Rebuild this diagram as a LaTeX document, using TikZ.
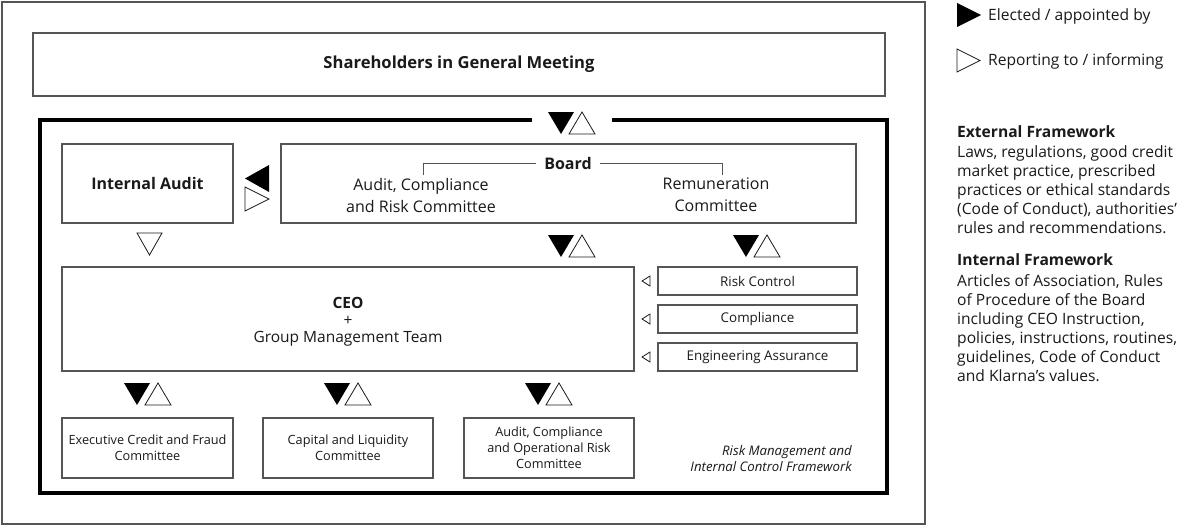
\documentclass[tikz,border=0pt]{standalone}
\usepackage{fontspec}
\setmainfont{Open Sans}
\definecolor{boxline}{HTML}{555555}
\definecolor{ink}{HTML}{1A1A1A}
\tikzset{
  box/.style={draw=boxline, line width=1.1pt, inner sep=0pt, align=center, text=ink},
  lbl/.style={inner sep=0pt, align=center, text=ink},
  frame/.style={line width=4pt, draw=black},
  wht/.style={fill=white, draw=ink, line width=0.8pt, line join=miter},
  pics/vpair/.style={code={
    \fill[black] (0,0) -- (26,0) -- (13,22) -- cycle;
    \draw[wht] (21,22) -- (47,22) -- (34,0) -- cycle;
  }}
}
\newcommand{\ttxt}{\fontsize{16.6}{22}\selectfont}
\newcommand{\btxt}{\fontsize{16}{22}\selectfont}
\newcommand{\ctxt}{\fontsize{15.5}{17}\selectfont}
\newcommand{\ktxt}{\fontsize{13.4}{16}\selectfont}
\newcommand{\stxt}{\fontsize{12.7}{16}\selectfont}
\newcommand{\itxt}{\fontsize{13.2}{16}\selectfont}
\newcommand{\rtxt}{\fontsize{15.6}{19}\selectfont}
\begin{document}
\begin{tikzpicture}[x=1pt,y=-1pt]
\useasboundingbox (0,0) rectangle (1184,527);
\fill[white] (0,0) rectangle (1184,527);
% outer frame
\draw[boxline, line width=1.1pt] (2,2) rectangle (925,524);
% shareholders
\node[box, minimum width=852pt, minimum height=63pt, font=\ttxt\bfseries] (sh) at (459,64.5) {Shareholders in General Meeting};
% thick frame
\draw[frame] (532,120) -- (40,120) -- (40,493) -- (887,493) -- (887,120) -- (612,120);
\pic at (548,112) {vpair};
% internal audit
\node[box, minimum width=171pt, minimum height=79pt, font=\btxt\bfseries] (ia) at (147.5,183.5) {Internal Audit};
% board
\node[box, minimum width=575pt, minimum height=79pt] (board) at (568.5,183.5) {};
\node[lbl, font=\btxt\bfseries, inner xsep=8pt] (bt) at (568,163) {Board};
\node[lbl, font=\btxt] (acrc) at (421,195) {Audit, Compliance\\and Risk Committee};
\node[lbl, font=\btxt] (rem) at (716,195) {Remuneration\\Committee};
\coordinate (bl) at (423,175);
\coordinate (br) at (722,175);
\draw[boxline, line width=1pt] (bl) |- (bt.west);
\draw[boxline, line width=1pt] (bt.east) -| (br);
% side triangles
\fill[black] (269,165) -- (269,192) -- (245,178.5) -- cycle;
\draw[wht] (245,187) -- (245,211) -- (269,199) -- cycle;
\draw[wht] (137,233) -- (162,233) -- (149.5,255) -- cycle;
\pic at (548,235) {vpair};
\pic at (733,235) {vpair};
% CEO
\node[box, minimum width=572pt, minimum height=104pt] (ceo) at (348,319) {};
\node[lbl, font=\ctxt] (ceot) at (348,321.5) {{\bfseries CEO}\\+\\Group Management Team};
% control functions
\node[box, minimum width=199pt, minimum height=28pt, font=\ktxt] (rc) at (757.5,281) {Risk Control};
\node[box, minimum width=199pt, minimum height=28pt, font=\ktxt] (co) at (757.5,319) {Compliance};
\node[box, minimum width=199pt, minimum height=28pt, font=\ktxt] (ea) at (757.5,357) {Engineering Assurance};
\foreach \yc in {281,319,357}{
  \draw[wht, line width=0.8pt] (650,\yc-5) -- (650,\yc+5) -- (642,\yc) -- cycle;
}
% bottom
\pic at (124,383) {vpair};
\pic at (324,383) {vpair};
\pic at (525,383) {vpair};
\node[box, minimum width=171pt, minimum height=60pt, font=\stxt] (ecf) at (147.5,448) {Executive Credit and Fraud\\Committee};
\node[box, minimum width=170pt, minimum height=60pt, font=\stxt] (clc) at (348,448) {Capital and Liquidity\\Committee};
\node[box, minimum width=170pt, minimum height=60pt, font=\stxt] (aco) at (549,448) {Audit, Compliance\\and Operational Risk\\Committee};
\node[lbl, font=\itxt\itshape, align=right, anchor=east] (rmf) at (852,458.5) {Risk Management and\\Internal Control Framework};
% legend
\fill[black] (957,3) -- (957,27) -- (981,15) -- cycle;
\draw[wht] (957,49) -- (957,72) -- (980,60.5) -- cycle;
\node[lbl, font=\rtxt, anchor=west] (l1) at (988,16.5) {Elected / appointed by};
\node[lbl, font=\rtxt, anchor=west] (l2) at (988,61.5) {Reporting to / informing};
\node[lbl, font=\rtxt, align=left, anchor=north west] (ext) at (957,125) {{\bfseries External Framework}\\[1.5pt]Laws, regulations, good credit\\market practice, prescribed\\practices or ethical standards\\(Code of Conduct), authorities'\\rules and recommendations.};
\node[lbl, font=\rtxt, align=left, anchor=north west] (int) at (957,253) {{\bfseries Internal Framework}\\[2pt]Articles of Association, Rules\\of Procedure of the Board\\including CEO Instruction,\\policies, instructions, routines,\\guidelines, Code of Conduct\\and Klarna's values.};
\end{tikzpicture}
\end{document}
